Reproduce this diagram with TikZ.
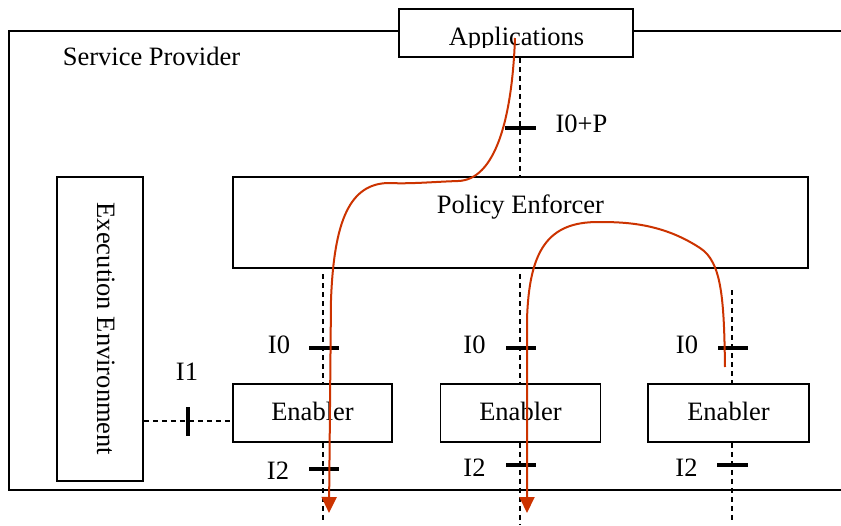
\documentclass[tikz,border=0pt]{standalone}
\usepackage{fontspec}
\setmainfont{Liberation Serif}
\usetikzlibrary{arrows.meta}
\definecolor{flow}{HTML}{CC3300}
\begin{document}
\begin{tikzpicture}[x=1pt,y=-1pt,
  box/.style={draw,line width=1.5pt,fill=white,inner sep=0pt,rectangle},
  lbl/.style={font=\fontsize{26.5}{30}\selectfont,inner sep=0pt,anchor=base},
  dsh/.style={line width=1.9pt,dash pattern=on 5pt off 4pt},
  tick/.style={line width=3.5pt},
  flowline/.style={draw=flow,line width=2pt,-{Triangle[length=16pt,width=15pt]}}]
\useasboundingbox (0,0) rectangle (841,525);
% service provider frame (open to the right)
\draw[line width=1.5pt] (841,31) -| (9,490) -- (841,490);
\node[lbl] (splbl) at (151.5,65) {Service Provider};
% boxes
\node[box,minimum width=234pt,minimum height=48pt] (apps) at (516,33) {};
\begin{scope}
\clip (400,10) rectangle (632,47.5);
\node[lbl] (appslbl) at (516.5,45) {Applications};
\end{scope}
\node[box,minimum width=575pt,minimum height=91pt] (pe) at (520.5,222.5) {};
\node[lbl] (pelbl) at (520.5,213) {Policy Enforcer};
\node[box,minimum width=86pt,minimum height=304pt] (ee) at (100,329) {};
\node[lbl,rotate=-90] (eelbl) at (97,329) {Execution Environment};
\node[box,minimum width=159pt,minimum height=58pt] (en1) at (312.5,413) {};
\node[box,minimum width=160pt,minimum height=58pt] (en2) at (520.5,413) {};
\node[box,minimum width=161pt,minimum height=58pt] (en3) at (728.5,413) {};
\node[lbl] (en1lbl) at (312.5,420) {Enabler};
\node[lbl] (en2lbl) at (520.5,420) {Enabler};
\node[lbl] (en3lbl) at (728.5,420) {Enabler};
% named coordinates
\coordinate (c1) at (323,0);
\coordinate (c2) at (520,0);
\coordinate (c3) at (732,0);
\coordinate (r1top) at (323,274);
\coordinate (r2top) at (520,274);
\coordinate (r3top) at (732,290);
\coordinate (b1) at (323,522);
\coordinate (b2) at (520,524);
\coordinate (b3) at (732,522);
% dashed interfaces
\draw[dsh] (c2 |- apps.south) -- (c2 |- pe.north);
\draw[dsh] (r1top) -- (c1 |- en1.north);
\draw[dsh] (r2top) -- (c2 |- en2.north);
\draw[dsh] (r3top) -- (c3 |- en3.north);
\draw[dsh] (c1 |- en1.south) -- (b1);
\draw[dsh] (c2 |- en2.south) -- (b2);
\draw[dsh] (c3 |- en3.south) -- (b3);
\coordinate (i1y) at (0,421);
\draw[dsh] (ee.east |- i1y) -- (en1.west |- i1y);
% ticks
\draw[tick] (505,128) -- (536,128);
\draw[tick] (309,348) -- (339,348);
\draw[tick] (506,348) -- (536,348);
\draw[tick] (718,348) -- (748,348);
\draw[tick] (309,469) -- (339,469);
\draw[tick] (506,465) -- (536,465);
\draw[tick] (717,465) -- (748,465);
\draw[tick] (188,407) -- (188,436);
% labels
\node[lbl] (l0p) at (581.5,132) {I0+P};
\node[lbl] (l01) at (279,353) {I0};
\node[lbl] (l02) at (474.5,353) {I0};
\node[lbl] (l03) at (687,353) {I0};
\node[lbl] (l21) at (278,479) {I2};
\node[lbl] (l22) at (474.5,476) {I2};
\node[lbl] (l23) at (686.5,476) {I2};
\node[lbl] (l1) at (187,380) {I1};
% flows
\coordinate (f1s) at (515,38);
\coordinate (f1e) at (329,513);
\coordinate (f2s) at (725,367);
\coordinate (f2e) at (527,513);
\draw[flowline] (f1s) .. controls (512,120) and (495,180) .. (458,181)
  .. controls (430,182) and (412,184) .. (388,183)
  .. controls (350,184) and (334,220) .. (331,300) -- (f1e);
\draw[flowline] (f2s) .. controls (724,300) and (722,262) .. (700,248)
  .. controls (662,223) and (625,222) .. (598,222)
  .. controls (548,222) and (529,250) .. (527,320) -- (f2e);
\end{tikzpicture}
\end{document}
